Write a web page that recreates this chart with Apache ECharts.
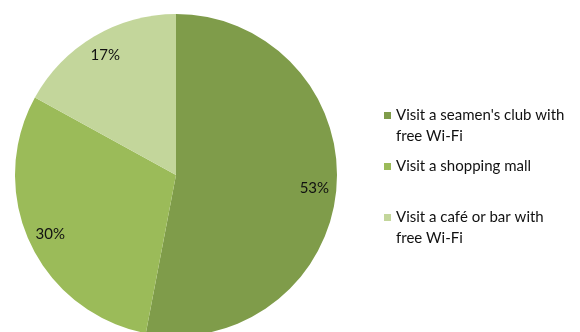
<!DOCTYPE html>
<html>
<head>
<meta charset="utf-8">
<script src="https://cdn.jsdelivr.net/npm/echarts@6/dist/echarts.min.js"></script>
<style>
  html, body { margin: 0; padding: 0; background: #ffffff; }
  #chart { width: 580px; height: 332px; }
</style>
</head>
<body>
<div id="chart"></div>
<script>
// Survey answers: share of respondents for each option
const categories = [
  "Visit a seamen's club with\nfree Wi-Fi",
  "Visit a shopping mall",
  "Visit a café or bar with\nfree Wi-Fi"
];
const shares = [53, 30, 17];
const sliceColors = ['#7f9c4a', '#9bbb59', '#c3d69b'];

const FONT = 'Lato, "Open Sans", sans-serif';

const pieData = categories.map((name, i) => ({
  name: name,
  value: shares[i],
  itemStyle: { color: sliceColors[i] }
}));

const chart = echarts.init(document.getElementById('chart'), null, { renderer: 'canvas' });
chart.setOption({
  animation: false,
  backgroundColor: '#ffffff',
  legend: {
    orient: 'vertical',
    left: 384,
    top: 84,
    padding: 0,
    icon: 'rect',
    itemWidth: 7,
    itemHeight: 7,
    itemGap: 9,
    selectedMode: false,
    data: categories,
    // a blank leading line keeps the first text line level with the marker
    formatter: name => (name.indexOf('\n') >= 0 ? '\n' + name : name),
    textStyle: {
      fontFamily: FONT,
      fontSize: 15,
      lineHeight: 21,
      color: '#111111'
    }
  },
  series: [
    {
      // visible slices
      type: 'pie',
      center: [176, 175],
      radius: 161,
      startAngle: 90,
      clockwise: true,
      silent: true,
      label: { show: false },
      labelLine: { show: false },
      itemStyle: { borderWidth: 0 },
      data: pieData
    },
    {
      // transparent ring that carries the percentage labels near the rim
      type: 'pie',
      center: [176, 175],
      radius: [112, 160],
      startAngle: 90,
      clockwise: true,
      silent: true,
      legendHoverLink: false,
      itemStyle: { color: 'rgba(0,0,0,0)', borderWidth: 0 },
      label: {
        show: true,
        position: 'inside',
        formatter: p => p.value + '%',
        fontFamily: FONT,
        fontSize: 15,
        color: '#111111'
      },
      labelLine: { show: false },
      data: categories.map((name, i) => ({ name: name, value: shares[i] }))
    }
  ]
});
</script>
</body>
</html>
